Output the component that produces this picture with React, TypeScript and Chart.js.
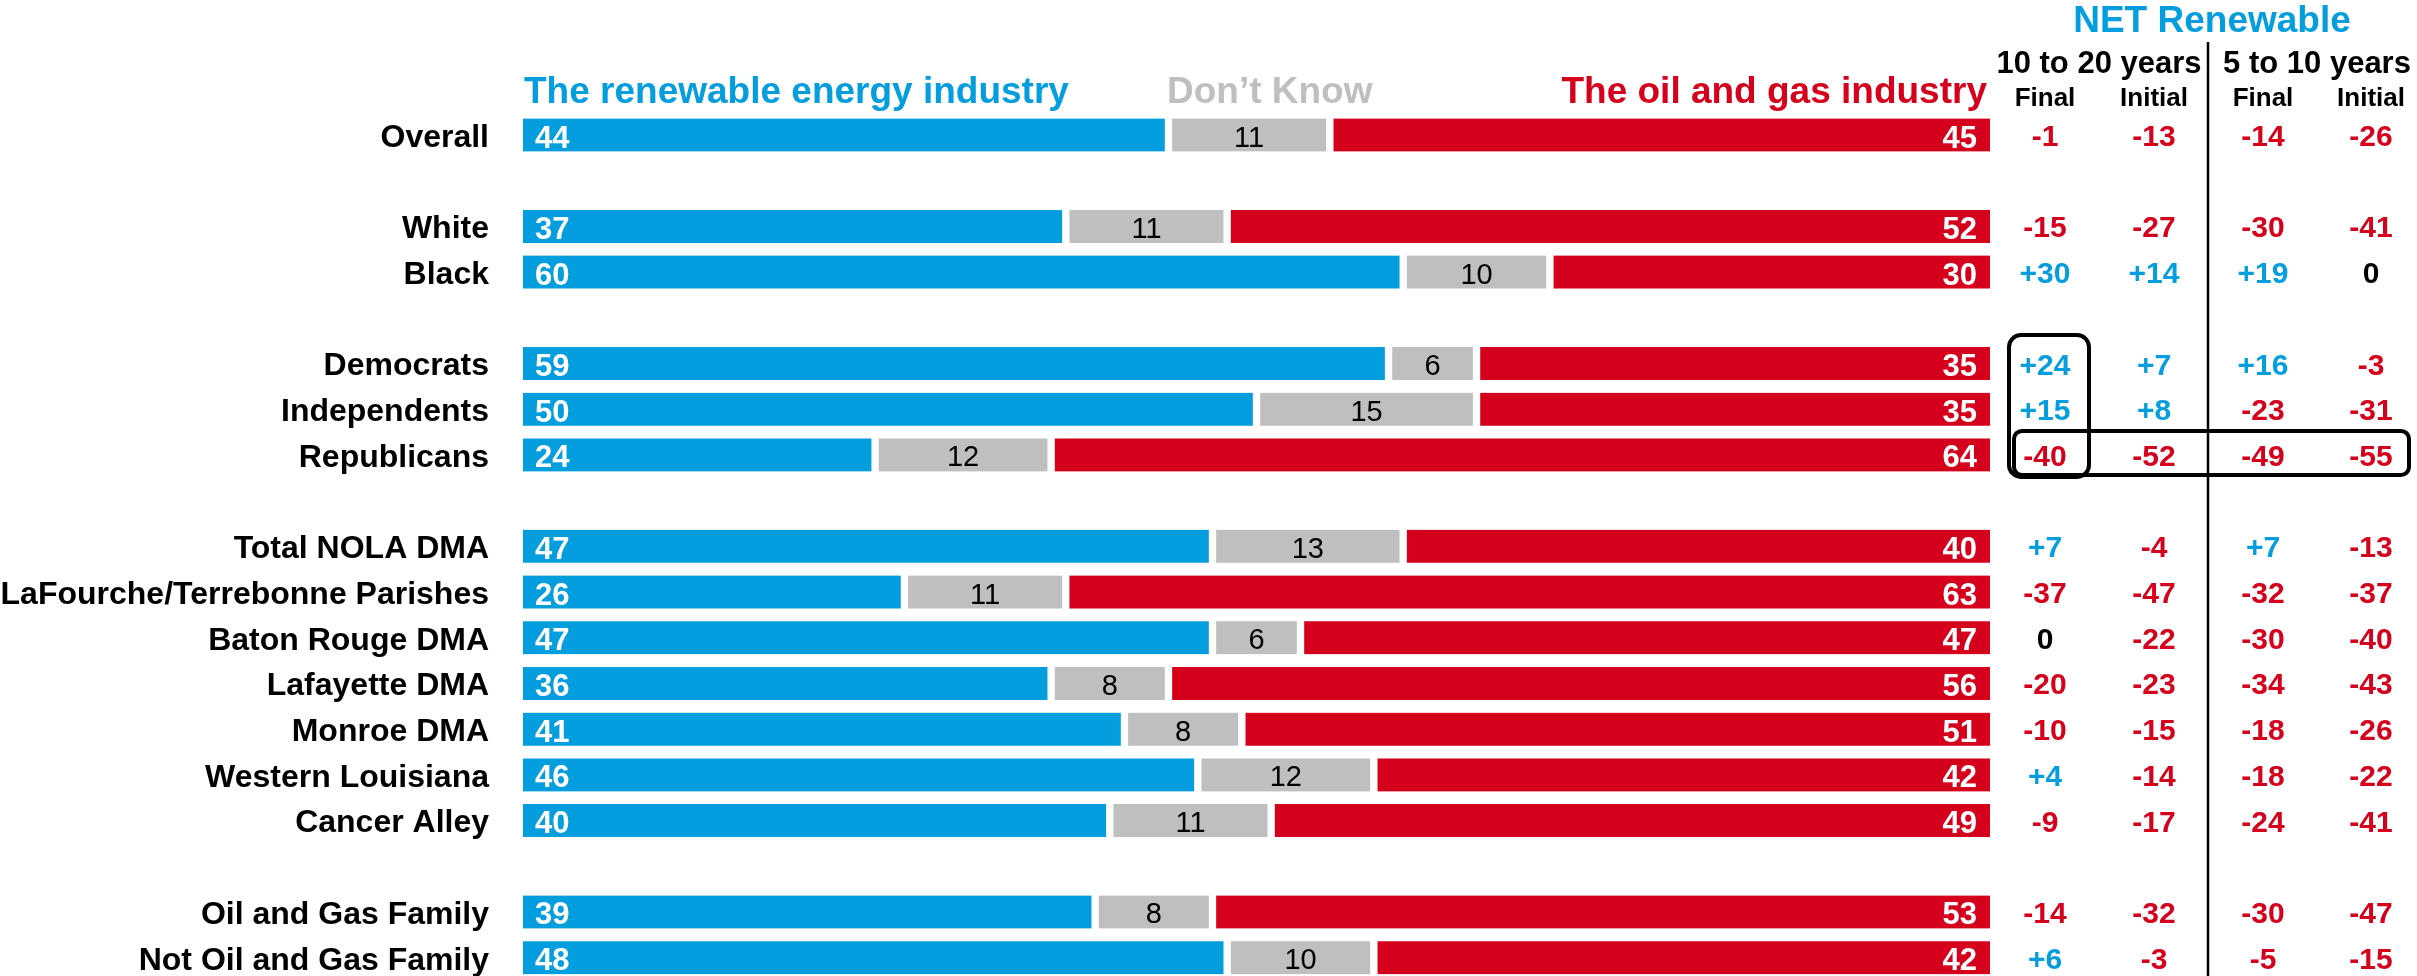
import React, { useEffect, useRef } from 'react';
import { Chart, registerables } from 'chart.js';

Chart.register(...registerables);

// ---------- DATA ----------
const categories = [
  'Overall', '',
  'White', 'Black', '',
  'Democrats', 'Independents', 'Republicans', '',
  'Total NOLA DMA', 'LaFourche/Terrebonne Parishes', 'Baton Rouge DMA', 'Lafayette DMA',
  'Monroe DMA', 'Western Louisiana', 'Cancer Alley', '',
  'Oil and Gas Family', 'Not Oil and Gas Family',
];

const renewable = [44, null, 37, 60, null, 59, 50, 24, null, 47, 26, 47, 36, 41, 46, 40, null, 39, 48];
const dontKnow = [11, null, 11, 10, null, 6, 15, 12, null, 13, 11, 6, 8, 8, 12, 11, null, 8, 10];
const oilGas = [45, null, 52, 30, null, 35, 35, 64, null, 40, 63, 47, 56, 51, 42, 49, null, 53, 42];

const netFinal10to20 = [-1, null, -15, 30, null, 24, 15, -40, null, 7, -37, 0, -20, -10, 4, -9, null, -14, 6];
const netInitial10to20 = [-13, null, -27, 14, null, 7, 8, -52, null, -4, -47, -22, -23, -15, -14, -17, null, -32, -3];
const netFinal5to10 = [-14, null, -30, 19, null, 16, -23, -49, null, 7, -32, -30, -34, -18, -18, -24, null, -30, -5];
const netInitial5to10 = [-26, null, -41, 0, null, -3, -31, -55, null, -13, -37, -40, -43, -26, -22, -41, null, -47, -15];

const seriesNames = ['The renewable energy industry', 'Don\u2019t Know', 'The oil and gas industry'];
const netTitle = 'NET Renewable';
const netGroups = ['10 to 20 years', '5 to 10 years'];
const netSubheads = ['Final', 'Initial', 'Final', 'Initial'];
const highlightRows = ['Democrats', 'Republicans'];

// ---------- STYLE ----------
const FONT = "'Liberation Sans', Arial, Helvetica, sans-serif";
const BLUE = '#049DDD';
const RED = '#D5001C';
const GRAY = '#BFBFBF';
const W = 2417;
const H = 976;
const COL_X = [2045, 2154, 2263, 2371];
const GROUP_X = [2099, 2317];
const DIVIDER_X = 2208;

function fmtNet(v: number) {
  if (v > 0) return '+' + v;
  return String(v);
}
function netColor(v: number) {
  if (v > 0) return BLUE;
  if (v < 0) return RED;
  return '#000000';
}

const overlayPlugin = {
  id: 'overlay',
  afterDatasetsDraw(chart: any) {
    const ctx = chart.ctx as CanvasRenderingContext2D;
    const yScale = chart.scales.y;
    const area = chart.chartArea;
    ctx.save();

    // labels inside bars
    chart.data.datasets.forEach((ds: any, di: number) => {
      const meta = chart.getDatasetMeta(di);
      meta.data.forEach((el: any, i: number) => {
        const v = ds.data[i];
        if (v == null) return;
        const p = el.getProps(['x', 'base', 'y'], true);
        const left = Math.min(p.x, p.base);
        const right = Math.max(p.x, p.base);
        if (di === 0) {
          ctx.font = `bold 31px ${FONT}`;
          ctx.fillStyle = '#FFFFFF';
          ctx.textAlign = 'left';
          ctx.textBaseline = 'alphabetic';
          ctx.fillText(String(v), left + 12, p.y + 12.5);
        } else if (di === 1) {
          ctx.font = `29px ${FONT}`;
          ctx.fillStyle = '#000000';
          ctx.textAlign = 'center';
          ctx.textBaseline = 'alphabetic';
          ctx.fillText(String(v), (left + right) / 2, p.y + 11.5);
        } else {
          ctx.font = `bold 31px ${FONT}`;
          ctx.fillStyle = '#FFFFFF';
          ctx.textAlign = 'right';
          ctx.textBaseline = 'alphabetic';
          ctx.fillText(String(v), right - 13, p.y + 12.5);
        }
      });
    });

    // series headers
    ctx.textBaseline = 'alphabetic';
    ctx.font = `bold 37px ${FONT}`;
    ctx.fillStyle = BLUE;
    ctx.textAlign = 'left';
    ctx.fillText(seriesNames[0], area.left + 1, 103);
    ctx.fillStyle = GRAY;
    ctx.fillText(seriesNames[1], 1167, 103);
    ctx.fillStyle = RED;
    ctx.textAlign = 'right';
    ctx.fillText(seriesNames[2], area.right - 3, 103);

    // NET header
    ctx.textAlign = 'center';
    ctx.fillStyle = BLUE;
    ctx.font = `bold 37px ${FONT}`;
    ctx.fillText(netTitle, DIVIDER_X + 4, 32);
    ctx.fillStyle = '#000000';
    ctx.font = `bold 31px ${FONT}`;
    netGroups.forEach((g, i) => ctx.fillText(g, GROUP_X[i], 73));
    ctx.font = `bold 26px ${FONT}`;
    netSubheads.forEach((s, i) => ctx.fillText(s, COL_X[i], 106));

    // divider line
    ctx.strokeStyle = '#000000';
    ctx.lineWidth = 2.5;
    ctx.beginPath();
    ctx.moveTo(DIVIDER_X, 42);
    ctx.lineTo(DIVIDER_X, H);
    ctx.stroke();

    // NET values
    const cols = [netFinal10to20, netInitial10to20, netFinal5to10, netInitial5to10];
    ctx.font = `bold 30px ${FONT}`;
    ctx.textAlign = 'center';
    cols.forEach((col, ci) => {
      col.forEach((v, i) => {
        if (v == null) return;
        const cy = yScale.getPixelForValue(i);
        ctx.fillStyle = netColor(v);
        ctx.fillText(fmtNet(v), COL_X[ci], cy + 11);
      });
    });

    // highlight boxes
    const iA = categories.indexOf(highlightRows[0]);
    const iB = categories.indexOf(highlightRows[1]);
    const yA = yScale.getPixelForValue(iA);
    const yB = yScale.getPixelForValue(iB);
    ctx.lineWidth = 4;
    ctx.strokeStyle = '#000000';
    ctx.beginPath();
    (ctx as any).roundRect(2009, yA - 28.5, 80, yB + 22 - (yA - 28.5), 12);
    ctx.stroke();
    ctx.beginPath();
    (ctx as any).roundRect(2014, yB - 24, 2409 - 2014, 44, 8);
    ctx.stroke();

    ctx.restore();
  },
};

export default function App() {
  const canvasRef = useRef<HTMLCanvasElement | null>(null);

  useEffect(() => {
    document.body.style.margin = '0';
    const canvas = canvasRef.current;
    if (!canvas) return;
    const chart = new Chart(canvas, {
      type: 'bar',
      data: {
        labels: categories,
        datasets: [
          {
            label: seriesNames[0],
            data: renewable,
            backgroundColor: BLUE,
            borderColor: '#FFFFFF',
            borderWidth: { left: 0, right: 4, top: 0, bottom: 0 },
            borderSkipped: false,
            barThickness: 33,
            clip: false,
          },
          {
            label: seriesNames[1],
            data: dontKnow,
            backgroundColor: GRAY,
            borderColor: '#FFFFFF',
            borderWidth: { left: 4, right: 4, top: 0, bottom: 0 },
            borderSkipped: false,
            barThickness: 33,
            clip: false,
          },
          {
            label: seriesNames[2],
            data: oilGas,
            backgroundColor: RED,
            borderColor: '#FFFFFF',
            borderWidth: { left: 4, right: 0, top: 0, bottom: 0 },
            borderSkipped: false,
            barThickness: 33,
            clip: false,
          },
        ] as any,
      },
      options: {
        indexAxis: 'y',
        responsive: false,
        animation: false,
        events: [],
        layout: { padding: { left: 0, right: W - 1990, top: 135, bottom: H - 957.7 } },
        plugins: {
          legend: { display: false },
          tooltip: { enabled: false },
          title: { display: false },
        },
        scales: {
          x: { type: 'linear', stacked: true, min: 0, max: 100, display: false },
          y: {
            type: 'category',
            stacked: true,
            offset: false,
            grid: { display: false, drawTicks: false },
            border: { display: false },
            afterFit(scale: any) {
              scale.width = 523;
              scale.paddingTop = 0;
              scale.paddingBottom = 0;
            },
            ticks: {
              autoSkip: false,
              color: '#000000',
              padding: 34,
              labelOffset: 3,
              font: { family: FONT, size: 32, weight: 'bold' },
            },
          },
        },
      } as any,
      plugins: [overlayPlugin],
    });
    return () => chart.destroy();
  }, []);

  return (
    <div style={{ width: W, height: H, background: '#FFFFFF' }}>
      <canvas ref={canvasRef} width={W} height={H} style={{ display: 'block' }} />
    </div>
  );
}
